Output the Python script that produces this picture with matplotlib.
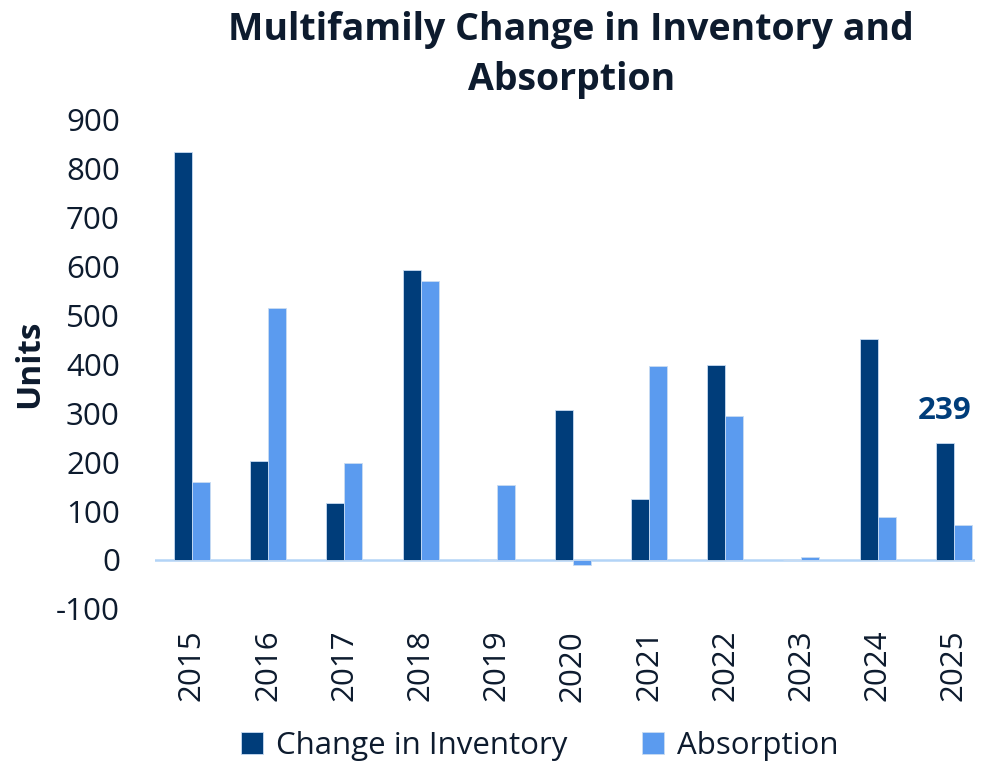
import matplotlib
matplotlib.use("Agg")
import matplotlib.pyplot as plt
import numpy as np

years = ["2015", "2016", "2017", "2018", "2019", "2020", "2021", "2022", "2023", "2024", "2025"]
change_in_inventory = [833, 202, 116, 592, 0, 307, 124, 399, 0, 451, 239]
absorption = [159, 514, 198, 570, 153, -10, 396, 294, 6, 88, 71]
yticks = [-100, 0, 100, 200, 300, 400, 500, 600, 700, 800, 900]

plt.rcParams['font.family'] = ['Open Sans', 'DejaVu Sans']

dark = "#003d7a"
light = "#5b9bef"
text_c = "#0d1b2e"
fs = 22.5

fig = plt.figure(figsize=(9.85, 7.65), dpi=100)
ax = fig.add_axes([0.157, 0.204, 0.833, 0.64])

x = np.arange(len(years))
w = 0.236
b1 = ax.bar(x - w/2, change_in_inventory, w, color=dark, edgecolor="#c9dcf2", linewidth=0.6, label="Change in Inventory")
b2 = ax.bar(x + w/2, absorption, w, color=light, edgecolor="#c9dcf2", linewidth=0.6, label="Absorption")

ax.set_xlim(-0.49, 10.28)
ax.set_ylim(-100, 900)
ax.set_yticks(yticks)
ax.set_yticklabels([str(v) for v in yticks], fontsize=fs, color=text_c)
ax.set_xticks(x)
ax.set_xticklabels(years, rotation=90, fontsize=fs, color=text_c)
ax.tick_params(axis='both', length=0)
ax.tick_params(axis='x', pad=15)
ax.tick_params(axis='y', pad=25)
for s in ax.spines.values():
    s.set_visible(False)
ax.axhline(0, color="#b3d4f7", linewidth=1.8, zorder=0)

ax.set_ylabel("Units", fontsize=24, fontweight='bold', color=text_c, labelpad=7)

ax.annotate(str(change_in_inventory[-1]), (x[-1] - w/2, change_in_inventory[-1]),
            xytext=(0, 12), textcoords='offset points', ha='center', va='bottom',
            fontsize=fs, fontweight='bold', color=dark)

fig.suptitle("Multifamily Change in Inventory and\nAbsorption", fontsize=27, fontweight='bold',
             color=text_c, y=0.986, x=0.58, linespacing=1.42)

fig.legend(handles=[b1, b2], loc='center', bbox_to_anchor=(0.548, 0.025), ncol=2,
           frameon=False, fontsize=fs, handlelength=0.7, handleheight=0.7,
           handletextpad=0.4, columnspacing=2.4, labelcolor=text_c)

fig.savefig("out.png", dpi=100)
